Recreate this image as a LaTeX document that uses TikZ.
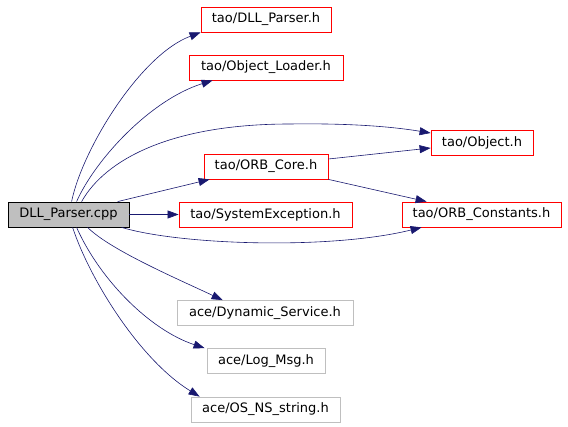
\documentclass[tikz,border=0pt]{standalone}
\usepackage{fontspec}
\setmainfont{DejaVu Sans}
\usetikzlibrary{arrows.meta}
\definecolor{edgeblue}{HTML}{191970}
\definecolor{boxgray}{HTML}{BFBFBF}
\begin{document}
\begin{tikzpicture}[x=1pt, y=-1pt,
  file/.style={draw, line width=0.8pt, inner sep=0pt, minimum height=25pt,
    font=\fontsize{13}{15}\selectfont},
  taofile/.style={file, draw=red},
  acefile/.style={file, draw=boxgray},
  dep/.style={draw=edgeblue, line width=0.6pt,
    -{Triangle[length=11pt, width=8pt, fill=edgeblue]}}]
\useasboundingbox (0,0) rectangle (568,427);
% Archivo principal
\node[file, fill=boxgray, draw=black, minimum width=121pt] (cpp) at (68.5,214.5) {DLL\_Parser.cpp};
% Cabeceras de tao
\node[taofile, minimum width=130pt] (dllh) at (266,19.5) {tao/DLL\_Parser.h};
\node[taofile, minimum width=154pt] (objl) at (266,67.5) {tao/Object\_Loader.h};
\node[taofile, minimum width=102pt] (obj) at (482,142.5) {tao/Object.h};
\node[taofile, minimum width=124pt] (core) at (266,166.5) {tao/ORB\_Core.h};
\node[taofile, minimum width=173pt] (sysex) at (265.5,214.5) {tao/SystemException.h};
\node[taofile, minimum width=159pt] (const) at (481.5,214.5) {tao/ORB\_Constants.h};
% Cabeceras de ace
\node[acefile, minimum width=176pt] (dyn) at (265,313) {ace/Dynamic\_Service.h};
\node[acefile, minimum width=118pt] (logm) at (266,361) {ace/Log\_Msg.h};
\node[acefile, minimum width=149pt] (osns) at (265.5,409.5) {ace/OS\_NS\_string.h};
% Dependencias hacia arriba
\draw[dep] ([xshift=64pt]cpp.north west) .. controls (82,150) and (140,55) .. (dllh.south west);
\draw[dep] ([xshift=69pt]cpp.north west) .. controls (95,160) and (150,100) .. ([xshift=24pt]objl.south west);
\draw[dep] ([xshift=74pt]cpp.north west) .. controls (105,160) and (170,124) .. (290,124)
  .. controls (360,123) and (400,128) .. ([yshift=9.5pt]obj.west);
\draw[dep] ([xshift=110pt]cpp.north west) -- ([xshift=6pt]core.south west);
% Dependencias horizontales
\draw[dep] (cpp.east) -- (sysex.west);
\draw[dep] ([xshift=114pt]cpp.south west) .. controls (180,245) and (330,250) .. ([xshift=20pt]const.south west);
\draw[dep] ([yshift=7.5pt]core.east) -- ([yshift=-5.5pt]obj.west);
\draw[dep] (core.south east) -- ([xshift=25pt]const.north west);
% Dependencias hacia abajo
\draw[dep] ([xshift=80pt]cpp.south west) .. controls (110,250) and (180,280) .. ([xshift=46pt]dyn.north west);
\draw[dep] ([xshift=69pt]cpp.south west) .. controls (100,280) and (150,330) .. ([xshift=-2pt]logm.north west);
\draw[dep] ([xshift=65pt]cpp.south west) .. controls (90,280) and (140,360) .. ([xshift=9pt]osns.north west);
\end{tikzpicture}
\end{document}
